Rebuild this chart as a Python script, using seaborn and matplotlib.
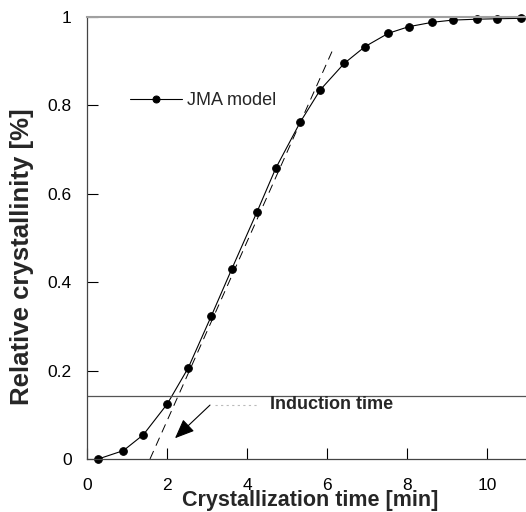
import matplotlib
matplotlib.use("Agg")
import matplotlib.pyplot as plt
import seaborn as sns
import pandas as pd

# Data
time_min = [0.28, 0.91, 1.41, 2.01, 2.53, 3.11, 3.62, 4.25, 4.72, 5.33, 5.83,
            6.43, 6.95, 7.53, 8.04, 8.63, 9.14, 9.74, 10.25, 10.85]
crystallinity = [0.0, 0.019, 0.055, 0.125, 0.206, 0.324, 0.43, 0.559, 0.658, 0.762, 0.835,
                 0.895, 0.933, 0.963, 0.978, 0.988, 0.993, 0.995, 0.996, 0.997]
tangent_x = [1.575, 6.14]
tangent_y = [0.0, 0.925]
induction_level = 0.143
x_ticks = [0, 2, 4, 6, 8, 10]
y_ticks = [0, 0.2, 0.4, 0.6, 0.8, 1.0]
y_tick_labels = ["0", "0.2", "0.4", "0.6", "0.8", "1"]

sns.set_style("ticks")
plt.rcParams['font.family'] = ['Liberation Sans', 'DejaVu Sans']

df = pd.DataFrame({"t": time_min, "X": crystallinity})

fig = plt.figure(figsize=(5.26, 5.12), dpi=100)
ax = fig.add_axes([87/526, 53/512, 439/526, 442/512])

sns.lineplot(data=df, x="t", y="X", ax=ax, color="black", linewidth=0.8,
             marker="o", markersize=5.5, markeredgecolor="black", label="JMA model",
             clip_on=False)
ax.plot(tangent_x, tangent_y, color="black", linewidth=0.7, dashes=(9, 6))
ax.axhline(induction_level, color="#555555", linewidth=0.9)

ax.annotate("", xy=(2.2, 0.047), xytext=(3.075, 0.122),
            arrowprops=dict(arrowstyle="-|>,head_length=1.2,head_width=0.5",
                            color="black", lw=0.8, shrinkA=0, shrinkB=0))
ax.plot([3.2, 4.3], [0.122, 0.122], color="#bbbbbb", linewidth=0.8, linestyle=(0, (2, 3)))
ax.text(4.58, 0.124, "Induction time", fontsize=13, fontweight="bold", va="center", ha="left")

ax.set_xlim(0, 10.975)
ax.set_ylim(0, 1.0)
ax.set_xticks(x_ticks)
ax.set_xticklabels([str(v) for v in x_ticks])
ax.set_yticks(y_ticks)
ax.set_yticklabels(y_tick_labels)
ax.tick_params(axis="both", direction="in", length=8, width=0.8, labelsize=12.5, colors="black")
ax.tick_params(axis="x", pad=14)
ax.tick_params(axis="y", pad=11)

for s in ["left", "bottom"]:
    ax.spines[s].set_color("#444444")
    ax.spines[s].set_linewidth(0.9)
ax.spines["right"].set_visible(False)
ax.spines["top"].set_color("#a0a0a0")
ax.spines["top"].set_linewidth(1.5)

ax.set_xlabel("Crystallization time [min]", fontsize=15.5, fontweight="bold")
ax.xaxis.label.set_va("center")
ax.xaxis.set_label_coords(0.509, -0.093)
ax.set_ylabel("Relative crystallinity [%]", fontsize=18.5, fontweight="bold")
ax.yaxis.label.set_va("center")
ax.yaxis.set_label_coords(-0.148, 0.458)

leg = ax.legend(loc="center left", bbox_to_anchor=(0.06, 0.81), frameon=False,
                handlelength=2.9, handletextpad=0.3, fontsize=13)
for h in leg.legend_handles:
    h.set_markersize(5)

fig.savefig("out.png", dpi=100)
